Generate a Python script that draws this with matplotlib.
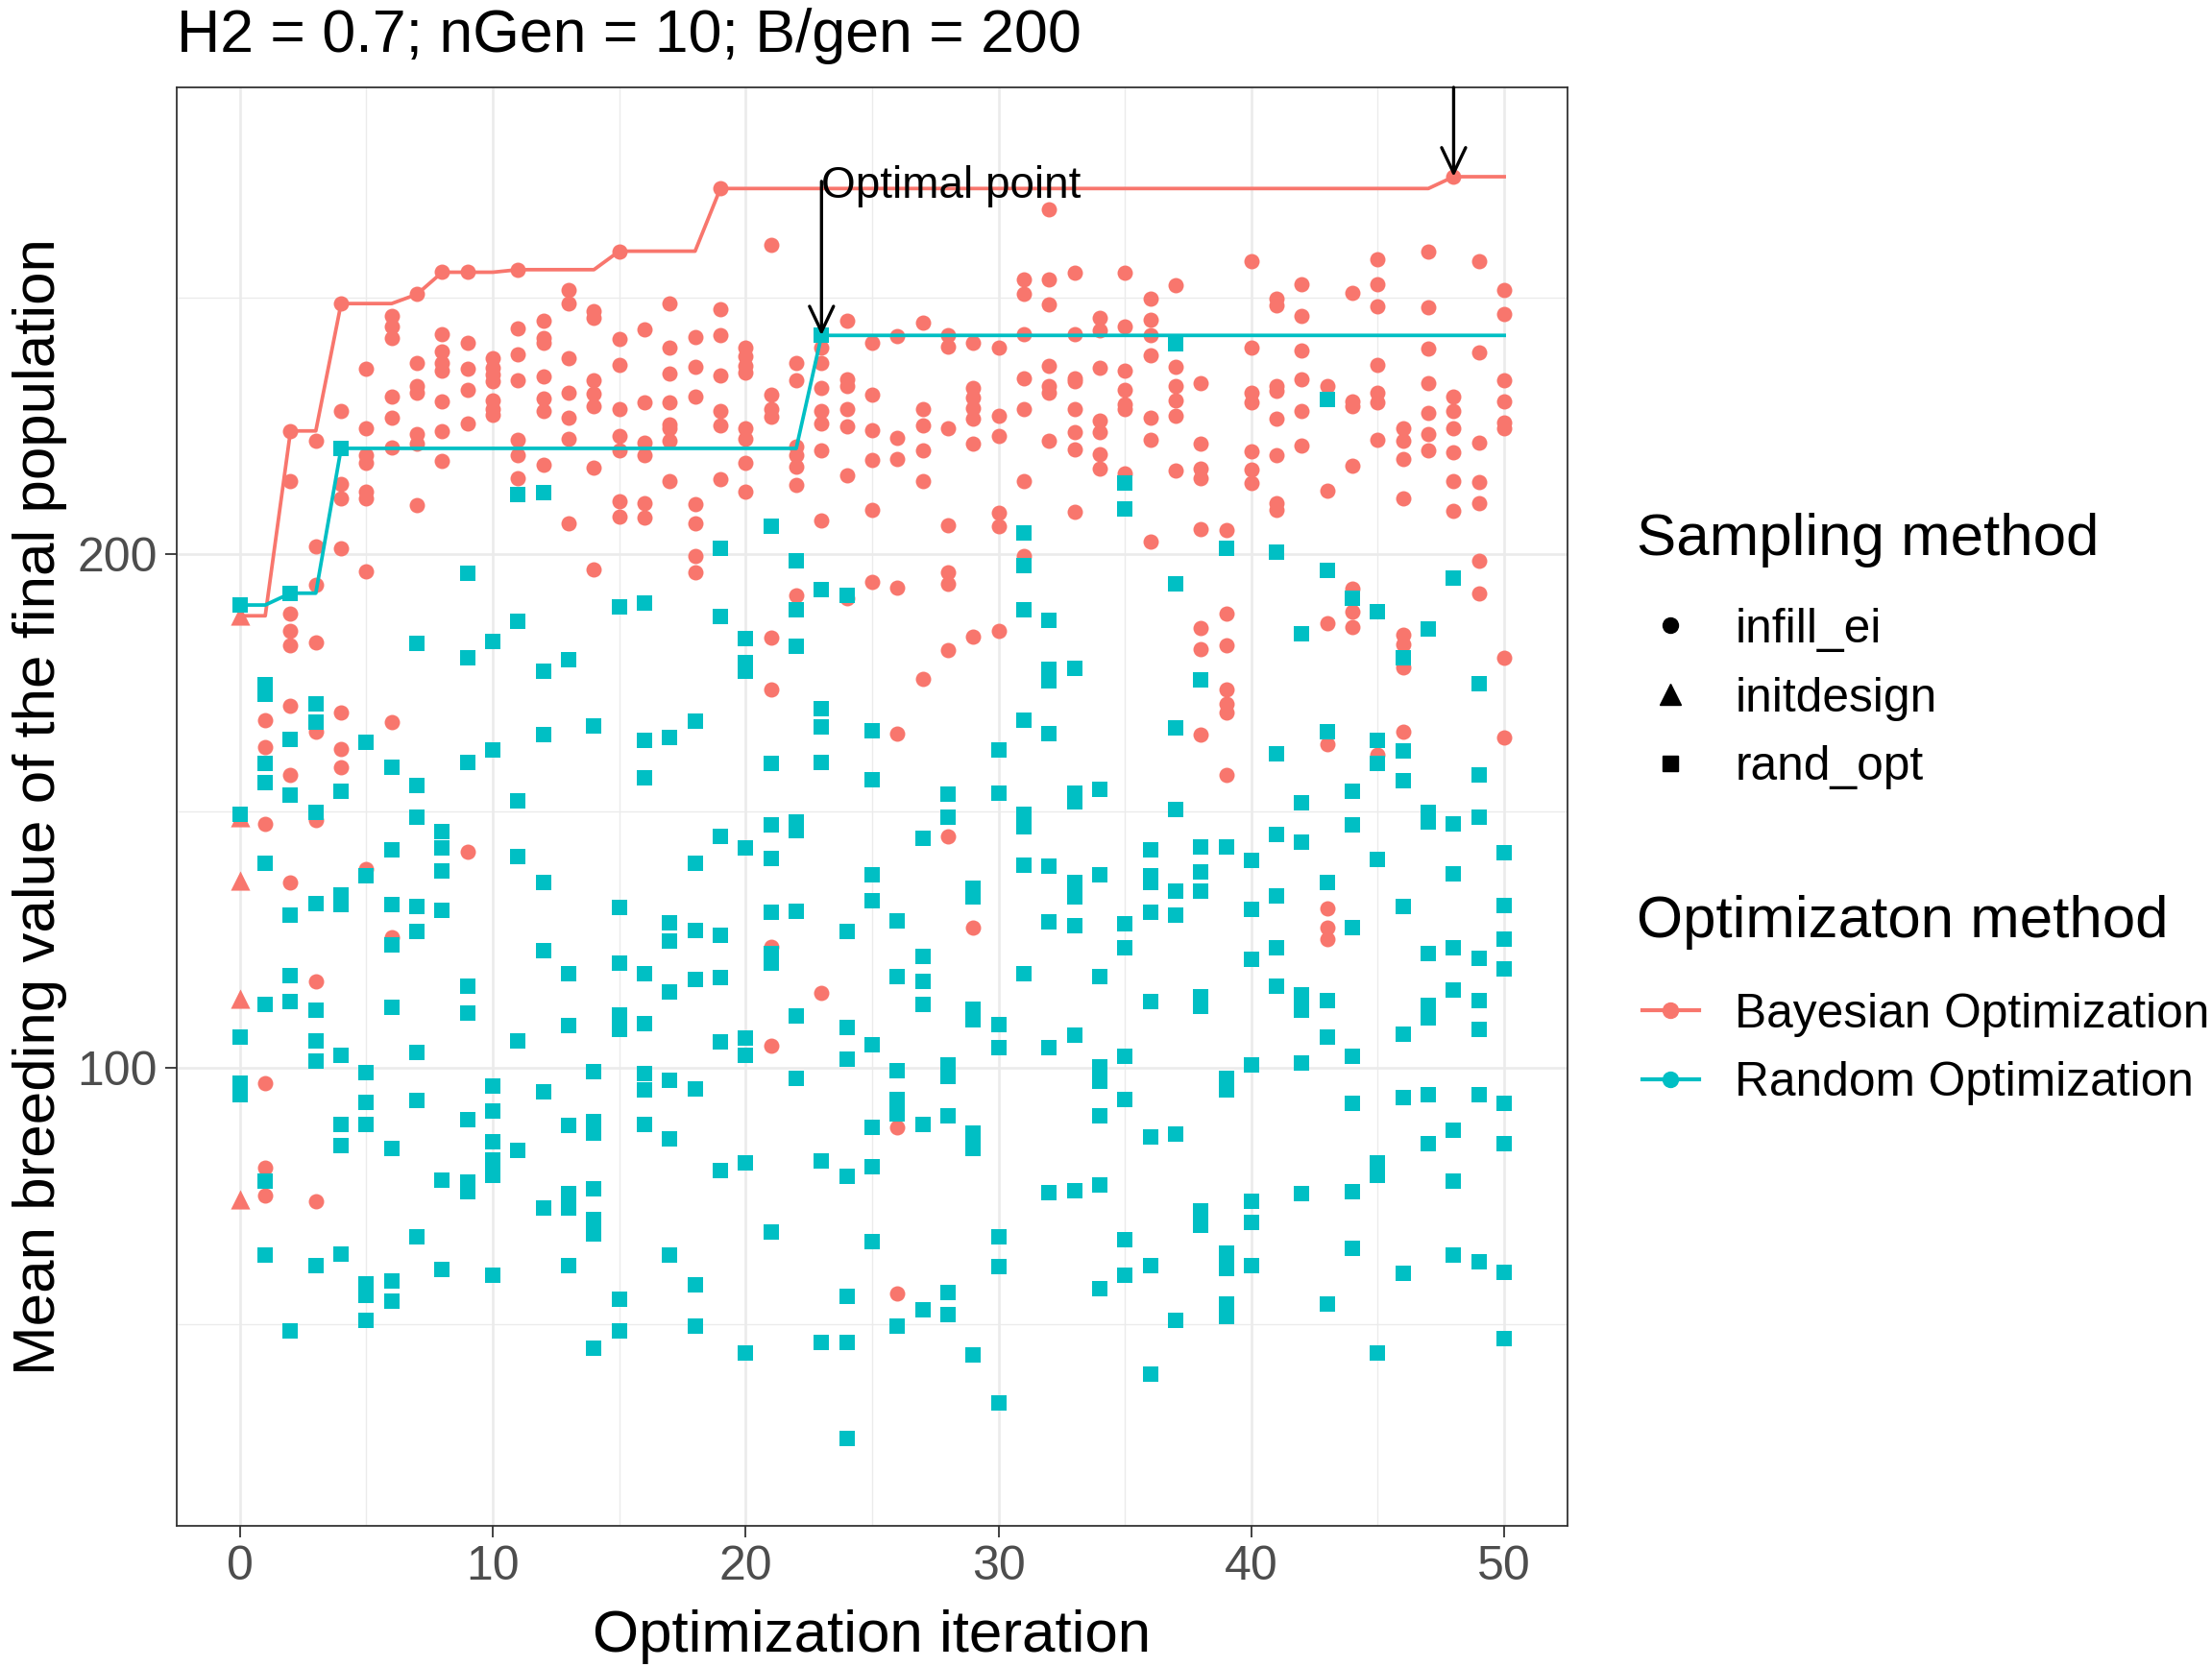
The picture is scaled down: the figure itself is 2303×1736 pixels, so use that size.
import numpy as np
import matplotlib
matplotlib.use('Agg')
import matplotlib.pyplot as plt
from matplotlib.lines import Line2D

plt.rcParams['font.family'] = ['Liberation Sans', 'DejaVu Sans']

RED = '#F8766D'
CYAN = '#00BFC4'

# 数据：每次迭代的样本值 (iteration 0 .. 50)
init_values = [188.0, 148.8, 136.4, 113.5, 74.3]

ei_values = [
    [],
    [167.7, 162.5, 147.4, 97.0, 80.5, 75.2],
    [224.0, 214.2, 188.5, 185.0, 182.3, 170.4, 157.0, 136.0],
    [222.0, 201.6, 194.0, 182.8, 165.5, 148.3, 116.9, 74.0],
    [248.8, 227.8, 213.7, 210.8, 201.2, 169.1, 162.0, 158.5],
    [236.1, 224.6, 219.3, 217.7, 212.1, 210.8, 196.6, 138.7],
    [246.4, 244.4, 242.1, 230.7, 226.6, 220.8, 167.3, 125.4],
    [250.6, 237.2, 232.7, 231.4, 223.3, 221.5, 209.6],
    [254.9, 242.8, 239.4, 237.2, 235.8, 229.7, 223.9, 218.2],
    [254.9, 241.2, 236.1, 232.0, 225.4, 142.1],
    [238.1, 236.3, 234.9, 233.6, 230.0, 228.2, 227.2],
    [255.4, 243.9, 239.0, 233.9, 222.2, 219.3, 214.8],
    [245.5, 242.1, 241.2, 234.7, 230.3, 227.8, 217.5],
    [251.5, 248.8, 238.1, 231.5, 226.6, 222.4, 206.0],
    [247.3, 246.1, 233.9, 231.2, 228.9, 216.8, 197.1],
    [259.0, 241.9, 236.9, 228.2, 223.1, 220.2, 210.3, 207.3],
    [243.7, 229.6, 221.7, 219.3, 209.9, 207.2],
    [248.8, 240.3, 235.2, 229.6, 225.3, 224.6, 222.1, 214.3],
    [242.3, 236.5, 230.6, 209.7, 206.0, 199.7, 196.4],
    [271.2, 247.7, 242.6, 234.8, 227.8, 225.1, 214.6],
    [240.3, 238.5, 236.7, 235.4, 224.6, 222.4, 217.7, 212.1],
    [260.3, 231.1, 228.2, 226.7, 183.7, 173.6, 123.6, 104.3],
    [237.2, 233.9, 221.0, 219.3, 217.0, 213.4, 191.9],
    [240.3, 237.2, 232.3, 227.8, 225.5, 220.2, 206.5, 114.6],
    [245.5, 234.0, 232.7, 228.2, 224.8, 215.4, 191.5],
    [241.2, 231.1, 224.2, 218.4, 208.7, 194.6],
    [242.4, 222.7, 218.5, 193.5, 165.0, 88.3, 56.0],
    [245.1, 228.2, 225.1, 220.2, 214.3, 175.8],
    [242.6, 240.5, 224.6, 205.6, 196.4, 194.2, 181.4, 145.1],
    [241.2, 232.3, 230.5, 228.5, 226.4, 221.5, 183.9, 127.2],
    [240.3, 226.9, 223.0, 208.1, 205.4, 185.0],
    [253.5, 250.6, 242.8, 234.3, 228.2, 214.3, 199.6],
    [267.2, 253.5, 248.7, 236.7, 232.7, 231.4, 222.1],
    [254.8, 242.8, 234.3, 233.6, 228.2, 223.7, 220.4, 208.2],
    [246.1, 243.5, 236.3, 226.0, 223.7, 219.5, 216.6],
    [254.8, 244.4, 235.7, 232.0, 229.1, 228.2, 215.7],
    [249.7, 245.7, 242.6, 238.7, 226.6, 222.2, 202.4],
    [252.4, 236.5, 232.7, 230.0, 226.9, 216.3],
    [233.3, 221.5, 216.6, 214.8, 204.9, 185.7, 181.5, 164.8],
    [204.7, 188.4, 182.3, 173.6, 170.9, 169.1, 157.0],
    [257.1, 240.3, 231.4, 229.6, 220.0, 216.4, 213.9],
    [249.7, 248.4, 232.7, 231.8, 226.3, 219.3, 209.9, 208.7],
    [252.6, 246.3, 239.6, 234.0, 227.8, 221.1],
    [232.7, 212.4, 186.6, 163.0, 131.1, 127.2, 125.1],
    [250.8, 229.7, 228.9, 217.3, 193.3, 188.8, 185.9],
    [257.5, 252.6, 248.2, 236.9, 231.4, 229.6, 222.2, 161.0],
    [224.6, 222.0, 218.5, 210.9, 184.3, 182.5, 177.9, 165.5],
    [258.9, 248.0, 240.1, 233.3, 227.5, 223.3, 220.3],
    [273.5, 230.6, 227.8, 224.6, 219.9, 214.3, 208.5],
    [257.1, 239.2, 221.8, 214.1, 209.9, 198.7, 192.4],
    [251.5, 246.8, 233.8, 229.7, 225.7, 224.6, 179.8, 164.3],
]

rand_values = [
    [190.1, 149.3, 106.0, 97.0, 94.7],
    [174.5, 172.7, 159.2, 155.5, 139.8, 112.4, 78.0, 63.5],
    [192.4, 163.9, 153.0, 129.8, 117.9, 112.8, 48.8],
    [170.9, 167.3, 149.7, 132.0, 111.2, 105.2, 101.3, 61.5],
    [220.6, 153.9, 133.7, 131.8, 102.5, 89.0, 84.8, 63.8],
    [163.3, 137.3, 99.1, 93.3, 88.9, 58.0, 55.7, 50.8],
    [158.5, 142.4, 131.8, 124.0, 111.7, 84.3, 58.4, 54.5],
    [182.7, 155.0, 148.8, 131.4, 126.5, 102.9, 93.6, 67.0],
    [146.0, 142.8, 138.3, 130.6, 78.2, 60.7],
    [196.2, 179.8, 159.5, 115.8, 110.6, 89.8, 77.7, 75.9],
    [183.0, 161.9, 96.5, 91.5, 85.5, 82.0, 79.0, 59.6],
    [211.6, 187.0, 152.0, 141.2, 105.2, 83.9],
    [211.9, 177.3, 164.8, 136.0, 122.8, 95.4, 72.7],
    [179.4, 118.3, 108.2, 88.7, 75.4, 72.7, 61.5],
    [166.6, 99.3, 89.6, 87.3, 76.5, 70.4, 67.6, 45.4],
    [189.7, 131.2, 120.4, 110.3, 107.5, 55.0, 48.8],
    [190.4, 163.7, 156.4, 118.3, 108.6, 98.8, 95.6, 88.9],
    [164.3, 128.2, 124.7, 114.7, 97.6, 86.1, 63.5],
    [167.5, 139.9, 126.8, 117.2, 95.9, 57.8, 49.7],
    [201.1, 187.9, 145.1, 125.7, 117.6, 105.0, 80.0],
    [183.6, 178.9, 177.2, 142.8, 105.7, 102.5, 81.4, 44.5],
    [205.4, 159.2, 147.2, 140.8, 130.3, 122.2, 120.4, 68.1],
    [198.7, 189.2, 182.0, 147.9, 146.1, 130.5, 110.1, 97.9],
    [242.6, 193.1, 170.0, 166.4, 159.5, 81.8, 46.5],
    [191.9, 126.6, 107.8, 101.6, 78.8, 55.4, 46.5, 27.9],
    [165.7, 156.1, 137.5, 132.5, 104.5, 88.4, 80.7, 66.2],
    [128.6, 117.8, 99.5, 93.8, 91.0, 49.7],
    [144.7, 121.6, 116.9, 112.3, 88.9, 52.9],
    [153.3, 148.8, 100.6, 98.3, 90.6, 56.3, 52.0],
    [135.0, 133.2, 111.4, 109.4, 87.3, 84.3, 44.0],
    [161.9, 153.5, 108.4, 104.0, 67.0, 61.2, 34.8],
    [204.2, 197.8, 189.2, 167.7, 149.3, 147.0, 139.4, 118.3],
    [187.2, 177.6, 175.4, 165.0, 139.2, 128.4, 104.0, 75.6],
    [177.8, 153.5, 151.8, 136.0, 133.2, 127.7, 106.3, 76.0],
    [154.2, 137.6, 117.8, 100.2, 97.4, 90.7, 77.2, 56.9],
    [213.9, 208.8, 128.0, 123.4, 102.3, 93.9, 66.5, 59.6],
    [142.4, 137.3, 136.0, 130.2, 112.8, 86.6, 61.4, 40.4],
    [241.0, 194.2, 166.1, 150.2, 134.4, 129.7, 87.1, 50.9],
    [175.5, 143.0, 138.1, 134.4, 113.9, 111.9, 72.2, 69.4],
    [201.1, 143.0, 97.9, 95.6, 63.9, 60.9, 53.9, 51.6],
    [140.4, 130.9, 121.1, 100.6, 74.0, 69.9, 61.4],
    [200.4, 161.2, 145.4, 133.4, 123.4, 115.8],
    [184.5, 151.6, 144.0, 114.2, 111.2, 100.9, 75.4],
    [230.2, 196.9, 165.5, 136.1, 113.0, 105.9, 53.9],
    [191.5, 153.8, 147.2, 127.2, 102.2, 93.0, 75.9, 64.9],
    [188.8, 163.7, 159.2, 140.6, 81.4, 79.1, 44.4],
    [179.8, 161.7, 155.9, 131.4, 106.6, 94.2, 60.0],
    [185.4, 149.7, 147.9, 122.2, 112.1, 109.8, 94.7, 85.3],
    [195.3, 147.4, 137.8, 123.4, 115.1, 87.8, 78.0, 63.5],
    [174.7, 157.0, 148.8, 121.3, 113.0, 107.5, 94.7, 62.3],
    [141.9, 131.6, 125.1, 119.3, 93.0, 85.3, 60.1, 47.2],
]

iters = np.arange(len(ei_values))
optimal_iter = 23

# 数据处理
ei_x = np.repeat(iters, [len(v) for v in ei_values])
ei_y = np.concatenate([np.asarray(v, float) for v in ei_values])
rand_x = np.repeat(iters, [len(v) for v in rand_values])
rand_y = np.concatenate([np.asarray(v, float) for v in rand_values])

bo_max = [max(v + (init_values if i == 0 else [])) for i, v in enumerate(ei_values)]
bo_best = np.maximum.accumulate(bo_max)
ro_best = np.maximum.accumulate([max(v) for v in rand_values])

fig = plt.figure(figsize=(23.03, 17.36), dpi=100)
ax = fig.add_axes([0.0799, 0.0847, 0.6287, 0.8629])

ax.scatter(ei_x, ei_y, s=132, marker='o', color=RED, linewidths=0, zorder=2)
ax.scatter(np.zeros(len(init_values)), init_values, s=210, marker='^',
           color=RED, linewidths=0, zorder=2)
ax.scatter(rand_x, rand_y, s=132, marker='s', color=CYAN, linewidths=0, zorder=3)
ax.plot(iters, bo_best, color=RED, lw=2.7, zorder=4)
ax.plot(iters, ro_best, color=CYAN, lw=2.7, zorder=4)

# 标注
arrow = dict(arrowstyle='->,head_length=19,head_width=9', mutation_scale=1,
             lw=2.4, color='black', shrinkA=0, shrinkB=0)
ax.annotate('', xy=(optimal_iter, ro_best[optimal_iter]), xytext=(optimal_iter, 272.6),
            arrowprops=arrow, zorder=5)
ax.text(optimal_iter, 269.4, 'Optimal point', fontsize=33, ha='left', va='baseline', zorder=5)
best_iter = int(np.argmax(bo_best))
ax.annotate('', xy=(best_iter, bo_best[best_iter]), xytext=(best_iter, 1.0),
            textcoords=('data', 'axes fraction'), arrowprops=arrow, zorder=5)

ax.set_xlim(-2.5, 52.5)
ax.set_ylim(10.8, 290.9)
ax.set_xticks([0, 10, 20, 30, 40, 50])
ax.set_xticks([5, 15, 25, 35, 45], minor=True)
ax.set_yticks([100, 200])
ax.set_yticks([50, 150, 250], minor=True)
ax.grid(which='major', color='#EBEBEB', lw=1.9)
ax.grid(which='minor', color='#EBEBEB', lw=1.0)
ax.set_axisbelow(True)
for s in ax.spines.values():
    s.set_color('#333333')
    s.set_linewidth(1.3)
ax.tick_params(which='major', length=8.3, width=1.3, color='#333333',
               labelsize=36, labelcolor='#4D4D4D', pad=6)
ax.tick_params(which='minor', length=0)

ax.set_xlabel('Optimization iteration', fontsize=44.6, va='baseline')
ax.xaxis.set_label_coords(0.5, -0.0875)
ax.set_ylabel('Mean breeding value of the final population', fontsize=44.6,
              va='baseline', ha='center')
ax.yaxis.set_label_coords(-0.0876, 0.5)

fig.text(0.0799, 0.9689, 'H2 = 0.7; nGen = 10; B/gen = 200', fontsize=45.1,
         ha='left', va='baseline')

# 图例
legend_kw = dict(loc='upper left', frameon=False, fontsize=35.7,
                 handlelength=1.19, handletextpad=0.755, labelspacing=0.52,
                 borderpad=0, borderaxespad=0)

fig.text(0.7399, 0.667, 'Sampling method', fontsize=44.6, ha='left', va='baseline')
shape_handles = [
    Line2D([], [], ls='none', marker='o', color='black', markersize=11.5),
    Line2D([], [], ls='none', marker='^', color='black', markersize=15.5),
    Line2D([], [], ls='none', marker='s', color='black', markersize=11.5),
]
leg1 = fig.legend(shape_handles, ['infill_ei', 'initdesign', 'rand_opt'],
                  bbox_to_anchor=(0.7424, 0.6355), **legend_kw)

fig.text(0.7399, 0.438, 'Optimizaton method', fontsize=44.6, ha='left', va='baseline')
color_handles = [
    Line2D([], [], color=RED, lw=3.0, marker='o', markersize=11.5),
    Line2D([], [], color=CYAN, lw=3.0, marker='o', markersize=11.5),
]
leg2 = fig.legend(color_handles, ['Bayesian Optimization', 'Random Optimization'],
                  bbox_to_anchor=(0.7424, 0.4046), **legend_kw)

fig.savefig('out.png', dpi=100)
